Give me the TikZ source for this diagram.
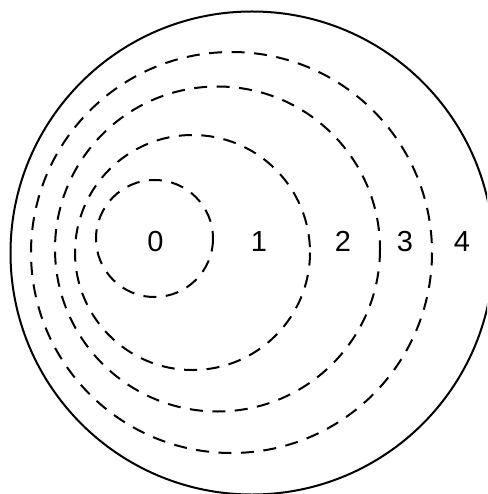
\documentclass[tikz,border=0pt]{standalone}
\usepackage{fontspec}
\setmainfont{Liberation Sans}
\begin{document}
\begin{tikzpicture}[x=1pt,y=-1pt,
  ring/.style={draw=black,line width=2pt,dash pattern=on 13pt off 9.5pt},
  rim/.style={draw=black,line width=2pt},
  lbl/.style={font=\fontsize{29}{31}\selectfont,inner sep=0pt}]
\useasboundingbox (0,0) rectangle (487,494);
\clip (0,0) rectangle (487,494);
\draw[rim] (252,253) circle[radius=241.5];
\draw[ring] (231.5,252.5) circle[radius=200.5];
\draw[ring] (217.5,249) circle[radius=162.5];
\draw[ring] (192.5,252.5) circle[radius=117.5];
\draw[ring] (154.5,238.5) circle[radius=58.5];
\node[lbl] (l0) at (155.5,241.5) {0};
\node[lbl] (l1) at (259,241.5) {1};
\node[lbl] (l2) at (343,241.5) {2};
\node[lbl] (l3) at (405,241.5) {3};
\node[lbl] (l4) at (462,241.5) {4};
\end{tikzpicture}
\end{document}
